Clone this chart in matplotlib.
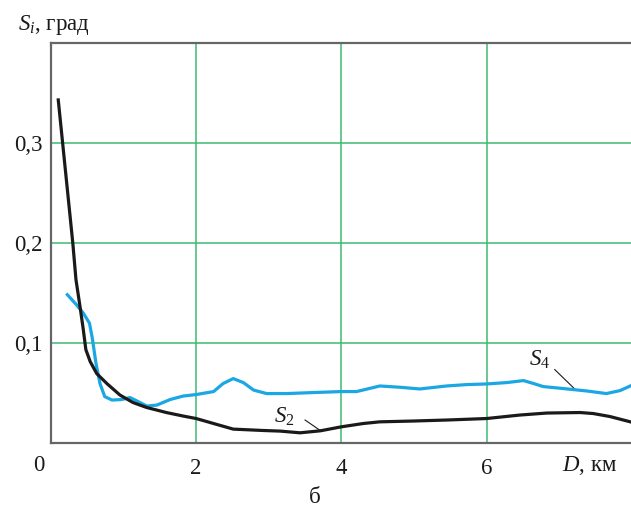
import matplotlib
matplotlib.use("Agg")
import matplotlib.pyplot as plt

# Data (D in km, S in degrees)
s2_x = [0.10, 0.16, 0.30, 0.344, 0.40, 0.445, 0.48, 0.54, 0.63, 0.77, 0.95, 1.13, 1.32, 1.59,
        1.82, 2.00, 2.24, 2.51, 2.93, 3.16, 3.43, 3.71, 4.00, 4.30, 4.53, 4.99, 5.45, 6.00,
        6.46, 6.83, 7.29, 7.47, 7.70, 7.98]
s2_y = [0.343, 0.300, 0.200, 0.163, 0.136, 0.113, 0.093, 0.081, 0.069, 0.059, 0.0475, 0.040, 0.035, 0.030,
        0.0265, 0.024, 0.019, 0.0134, 0.012, 0.0114, 0.0097, 0.0117, 0.0157, 0.019, 0.0207, 0.0215, 0.0225, 0.024,
        0.0275, 0.0295, 0.030, 0.029, 0.026, 0.0207]

s4_x = [0.225, 0.35, 0.445, 0.53, 0.57, 0.62, 0.675, 0.74, 0.84, 0.97, 1.09, 1.20, 1.32, 1.46,
        1.64, 1.82, 2.00, 2.24, 2.37, 2.51, 2.65, 2.79, 2.97, 3.25, 3.61, 4.00, 4.21, 4.53,
        4.81, 5.08, 5.45, 5.73, 6.00, 6.28, 6.51, 6.65, 6.78, 7.06, 7.38, 7.65, 7.84, 7.98]
s4_y = [0.148, 0.138, 0.1295, 0.1195, 0.104, 0.079, 0.059, 0.046, 0.0425, 0.043, 0.045, 0.041, 0.0365, 0.0375,
        0.043, 0.0465, 0.048, 0.051, 0.059, 0.064, 0.060, 0.0525, 0.049, 0.049, 0.050, 0.051, 0.051, 0.0566,
        0.0553, 0.0536, 0.0566, 0.058, 0.0586, 0.060, 0.062, 0.059, 0.056, 0.054, 0.0516, 0.049, 0.052, 0.0566]

x_ticks = [2, 4, 6]
x_tick_labels = ["2", "4", "6"]
y_ticks = [0.1, 0.2, 0.3]
y_tick_labels = ["0,1", "0,2", "0,3"]

plt.rcParams['font.family'] = ['Liberation Serif', 'DejaVu Serif']
plt.rcParams['mathtext.fontset'] = 'custom'
plt.rcParams['mathtext.rm'] = 'Liberation Serif'
plt.rcParams['mathtext.it'] = 'Liberation Serif:italic'

FS = 16.5

fig = plt.figure(figsize=(6.31, 5.11), dpi=100)
W, H = 631, 511
ax = fig.add_axes([51 / W, 1 - 442.5 / H, (631 - 51) / W, (442.5 - 43) / H])

ax.set_xlim(0, 7.99)
ax.set_ylim(0, 0.4)

grid_c = '#3dba72'
for v in x_ticks:
    ax.axvline(v, color=grid_c, lw=1.1, zorder=1)
for v in y_ticks:
    ax.axhline(v, color=grid_c, lw=1.1, zorder=1)

ax.plot(s4_x, s4_y, color='#1aa7e4', lw=2.3, solid_joinstyle='round', zorder=3)
ax.plot(s2_x, s2_y, color='#1a1a1a', lw=2.3, solid_joinstyle='round', zorder=4)

for side in ['left', 'bottom', 'top']:
    ax.spines[side].set_color('#666666')
    ax.spines[side].set_linewidth(1.6)
ax.spines['right'].set_visible(False)

ax.set_xticks(x_ticks)
ax.set_xticklabels(x_tick_labels)
ax.set_yticks(y_ticks)
ax.set_yticklabels(y_tick_labels)
ax.tick_params(length=0, labelsize=FS, colors='#1a1a1a')
ax.tick_params(axis='x', pad=11)
ax.tick_params(axis='y', pad=6)

# origin label and axis titles
fig.text(39 / W, 1 - 465 / H, "0", fontsize=FS, ha='center', va='center', color='#1a1a1a')
fig.text(590 / W, 1 - 465 / H, r"$D$, км", fontsize=FS, ha='center', va='center', color='#1a1a1a')
fig.text(18 / W, 1 - 25 / H, r"$S_i$, град", fontsize=FS, ha='left', va='center', color='#1a1a1a')
fig.text(315 / W, 1 - 497 / H, "б", fontsize=FS, ha='center', va='center', color='#1a1a1a')

# curve labels with leader lines
ax.text(3.22, 0.026, r"$S_2$", fontsize=FS, ha='center', va='center', color='#1a1a1a')
ax.plot([3.50, 3.71], [0.0225, 0.012], color='#1a1a1a', lw=0.8)
ax.text(6.73, 0.083, r"$S_4$", fontsize=FS, ha='center', va='center', color='#1a1a1a')
ax.plot([6.94, 7.23], [0.073, 0.0525], color='#1a1a1a', lw=0.8)

fig.savefig("out.png", dpi=100)
